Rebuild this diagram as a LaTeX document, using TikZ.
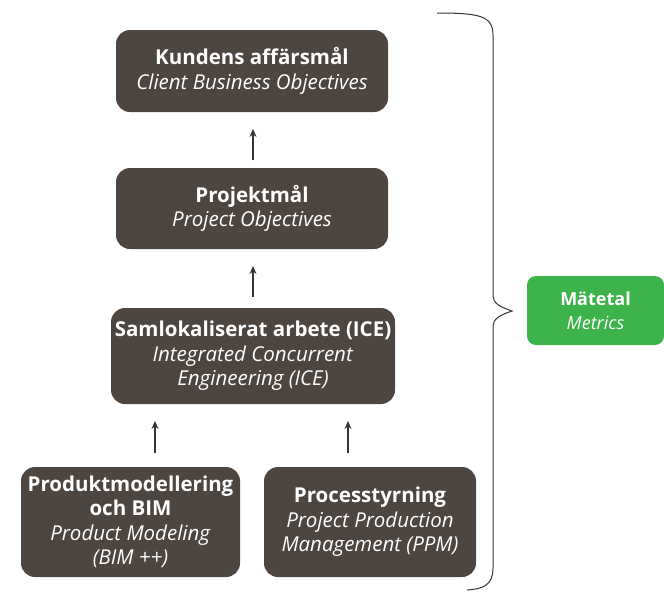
\documentclass[tikz,border=0pt]{standalone}
\usepackage{fontspec}
\setmainfont{Open Sans}
\usetikzlibrary{arrows.meta}
\definecolor{boxfill}{HTML}{4D4540}
\definecolor{greenfill}{HTML}{3DB34B}
\definecolor{linecol}{HTML}{3A332F}
\tikzset{
  darkbox/.style={draw=none, fill=boxfill, rounded corners=14pt, text=white, align=center, inner sep=0pt, font=\fontsize{20.5}{24.5}\selectfont},
  greenbox/.style={draw=none, fill=greenfill, rounded corners=9pt, text=white, align=center, inner sep=0pt, font=\fontsize{18}{24}\selectfont},
  uparrow/.style={draw=linecol, line width=1.1pt, -{Stealth[length=8pt,width=7pt]}},
  bracecol/.style={draw=linecol, line width=1pt}
}
\begin{document}
\begin{tikzpicture}[x=1pt,y=-1pt]
\useasboundingbox (0,0) rectangle (664,595);
\node[darkbox, minimum width=272pt, minimum height=82pt] (b1) at (252,71)
  {\textbf{Kundens affärsmål}\\\textit{Client Business Objectives}};
\node[darkbox, minimum width=272pt, minimum height=81pt] (b2) at (252,208.5)
  {\textbf{Projektmål}\\\textit{Project Objectives}};
\node[darkbox, minimum width=284pt, minimum height=96pt] (b3) at (253,356)
  {\textbf{Samlokaliserat arbete (ICE)}\\\textit{Integrated Concurrent}\\\textit{Engineering (ICE)}};
\node[darkbox, minimum width=219pt, minimum height=110pt] (b4) at (130.5,522)
  {\textbf{Produktmodellering}\\\textbf{och BIM}\\\textit{Product Modeling}\\\textit{(BIM ++)}};
\node[darkbox, minimum width=212pt, minimum height=110pt] (b5) at (370,522)
  {\textbf{Processtyrning}\\\textit{Project Production}\\\textit{Management (PPM)}};
\node[greenbox, minimum width=137pt, minimum height=69pt] (m) at (595.5,310.5)
  {\textbf{Mätetal}\\\textit{Metrics}};
\coordinate (a1s) at (253,160); \coordinate (a1e) at (253,129);
\coordinate (a2s) at (253,297); \coordinate (a2e) at (253,266);
\coordinate (a3s) at (155,453); \coordinate (a3e) at (155,421);
\coordinate (a4s) at (348,453); \coordinate (a4e) at (348,421);
\draw[uparrow] (a1s) -- (a1e);
\draw[uparrow] (a2s) -- (a2e);
\draw[uparrow] (a3s) -- (a3e);
\draw[uparrow] (a4s) -- (a4e);
\coordinate (bt) at (437,13);
\coordinate (btip) at (512,311);
\coordinate (bb) at (467,590);
\draw[bracecol] (bt) .. controls (480,13) and (493,16) .. (493,35)
  -- (493,296) .. controls (493,303) and (500,307) .. (btip)
  .. controls (500,315) and (493,319) .. (493,326)
  -- (493,568) .. controls (493,586) and (482,589) .. (bb);
\end{tikzpicture}
\end{document}
